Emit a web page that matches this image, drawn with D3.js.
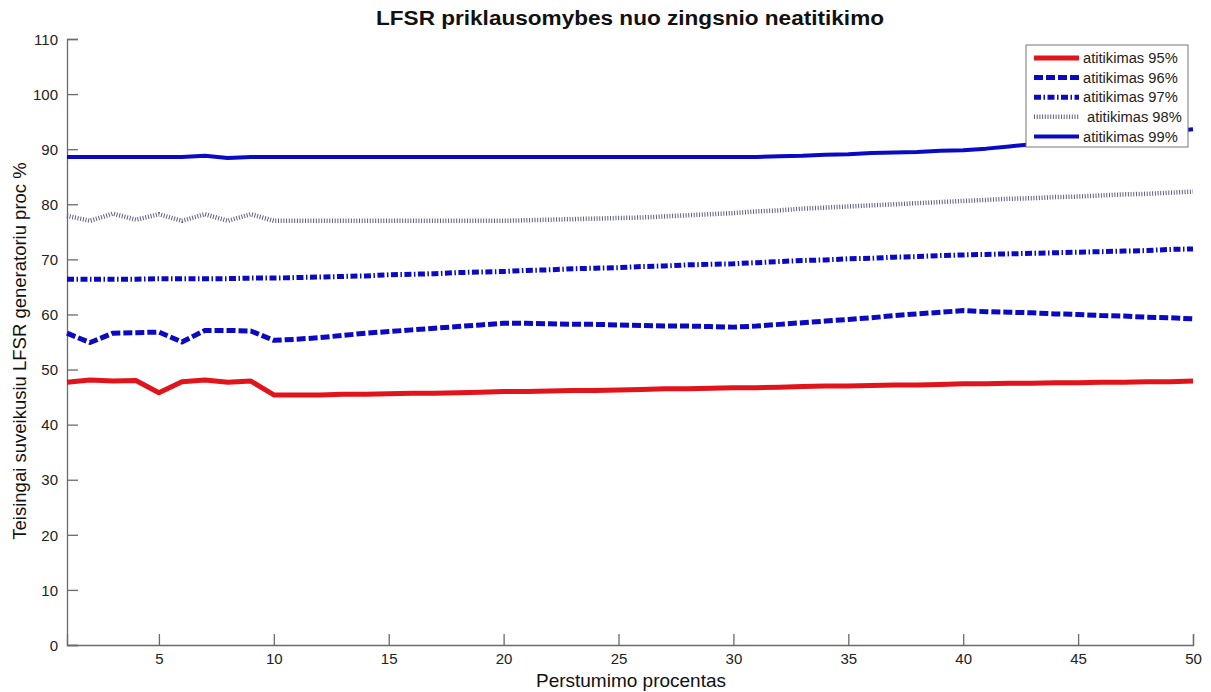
<!DOCTYPE html>
<html>
<head>
<meta charset="utf-8">
<script src="https://cdn.jsdelivr.net/npm/d3@7"></script>
<style>
  html, body { margin: 0; padding: 0; background: #fff; }
  svg { display: block; font-family: "Liberation Sans", Arial, sans-serif; }
</style>
</head>
<body>
<svg id="chart" width="1211" height="692"></svg>
<script>
// Shift percentage (x axis)
const shiftPercent = d3.range(1, 51);

// Share of correctly triggered LFSR generators, one array per match level
const match95 = [47.7, 48.1, 47.9, 48.0, 45.8, 47.8, 48.1, 47.7, 47.9, 45.4,
                 45.4, 45.4, 45.5, 45.5, 45.6, 45.7, 45.7, 45.8, 45.9, 46.0,
                 46.0, 46.1, 46.2, 46.2, 46.3, 46.4, 46.5, 46.5, 46.6, 46.7,
                 46.7, 46.8, 46.9, 47.0, 47.0, 47.1, 47.2, 47.2, 47.3, 47.4,
                 47.4, 47.5, 47.5, 47.6, 47.6, 47.7, 47.7, 47.8, 47.8, 47.9];
const match96 = [56.6, 54.9, 56.6, 56.7, 56.8, 55.0, 57.1, 57.1, 57.0, 55.3,
                 55.5, 55.8, 56.2, 56.6, 56.9, 57.2, 57.5, 57.8, 58.1, 58.4,
                 58.4, 58.3, 58.2, 58.2, 58.1, 58.0, 57.9, 57.9, 57.8, 57.7,
                 57.9, 58.2, 58.5, 58.8, 59.1, 59.4, 59.8, 60.1, 60.4, 60.7,
                 60.5, 60.4, 60.3, 60.1, 60.0, 59.8, 59.7, 59.5, 59.4, 59.2];
const match97 = [66.4, 66.4, 66.4, 66.4, 66.5, 66.5, 66.5, 66.5, 66.6, 66.6,
                 66.7, 66.8, 66.9, 67.0, 67.2, 67.3, 67.4, 67.6, 67.7, 67.8,
                 68.0, 68.1, 68.3, 68.4, 68.5, 68.7, 68.8, 69.0, 69.1, 69.2,
                 69.4, 69.6, 69.8, 69.9, 70.1, 70.2, 70.4, 70.5, 70.7, 70.8,
                 70.9, 71.0, 71.1, 71.2, 71.3, 71.4, 71.5, 71.6, 71.8, 71.9];
const match98 = [77.9, 77.0, 78.3, 77.2, 78.2, 77.0, 78.2, 77.0, 78.2, 77.0,
                 77.0, 77.0, 77.0, 77.0, 77.0, 77.0, 77.0, 77.0, 77.0, 77.0,
                 77.1, 77.2, 77.3, 77.4, 77.5, 77.6, 77.8, 78.0, 78.2, 78.4,
                 78.7, 78.9, 79.2, 79.4, 79.6, 79.8, 80.0, 80.2, 80.4, 80.6,
                 80.8, 81.0, 81.1, 81.3, 81.4, 81.6, 81.8, 81.9, 82.1, 82.3];
const match99 = [88.6, 88.6, 88.6, 88.6, 88.6, 88.6, 88.8, 88.4, 88.6, 88.6,
                 88.6, 88.6, 88.6, 88.6, 88.6, 88.6, 88.6, 88.6, 88.6, 88.6,
                 88.6, 88.6, 88.6, 88.6, 88.6, 88.6, 88.6, 88.6, 88.6, 88.6,
                 88.6, 88.7, 88.8, 89.0, 89.1, 89.3, 89.4, 89.5, 89.7, 89.8,
                 90.1, 90.5, 90.9, 91.2, 91.6, 92.0, 92.4, 92.8, 93.2, 93.6];

const seriesNames = ["atitikimas 95%", "atitikimas 96%", "atitikimas 97%", " atitikimas 98%", "atitikimas 99%"];
const xTicks = [5, 10, 15, 20, 25, 30, 35, 40, 45, 50];
const yTicks = [0, 10, 20, 30, 40, 50, 60, 70, 80, 90, 100, 110];

const titleText = "LFSR priklausomybes nuo zingsnio neatitikimo";
const xLabel = "Perstumimo procentas";
const yLabel = "Teisingai suveikusiu LFSR generatoriu proc %";

// Line styles per series
const styles = [
  { color: "#e0141a", width: 5,   dash: null },
  { color: "#0a0ac4", width: 5,   dash: "9,3" },
  { color: "#0a0ac4", width: 5,   dash: "7,2.5,1.5,2.5" },
  { color: "#5c5c84", width: 4.5, dash: "1,1.7" },
  { color: "#0a0ac4", width: 4,   dash: null }
];

const seriesValues = [match95, match96, match97, match98, match99];

const svg = d3.select("#chart");
const axisColor = "#6a6a6a";

const x = d3.scaleLinear().domain([1, 50]).range([67, 1193]);
const y = d3.scaleLinear().domain([0, 110]).range([645, 39]);

// Axes: left and bottom only, ticks pointing inside the plot
const xAxis = svg.append("g")
  .attr("transform", `translate(0,${y(0)})`)
  .call(d3.axisBottom(x).tickValues(xTicks).tickSize(-11).tickPadding(8).tickFormat(d3.format("d")));
const yAxis = svg.append("g")
  .attr("transform", `translate(${x(1)},0)`)
  .call(d3.axisLeft(y).tickValues(yTicks).tickSize(-11).tickPadding(20).tickFormat(d3.format("d")));

[xAxis, yAxis].forEach(g => {
  g.select(".domain").attr("stroke", axisColor).attr("stroke-width", 1.3);
  g.selectAll(".tick line").attr("stroke", axisColor).attr("stroke-width", 1.3);
  g.selectAll(".tick text")
    .attr("fill", "#222")
    .style("font-size", "15px")
    .style("font-family", "Liberation Sans, Arial, sans-serif");
});
yAxis.selectAll(".tick text").attr("x", -9).attr("dy", "0.35em");
xAxis.selectAll(".tick text").attr("y", 8).attr("dy", "0.71em");

// Series lines
const line = d3.line()
  .x((d, i) => x(shiftPercent[i]))
  .y(d => y(d));

svg.append("g")
  .selectAll("path")
  .data(seriesValues)
  .join("path")
  .attr("d", d => line(d))
  .attr("fill", "none")
  .attr("stroke", (d, i) => styles[i].color)
  .attr("stroke-width", (d, i) => styles[i].width)
  .attr("stroke-dasharray", (d, i) => styles[i].dash)
  .attr("stroke-linejoin", "round");

// Legend
const legend = svg.append("g").attr("transform", "translate(1026,45)");
legend.append("rect")
  .attr("width", 162).attr("height", 102)
  .attr("fill", "#fff").attr("stroke", "#777").attr("stroke-width", 1);
const rowH = 19.6;
const rows = legend.selectAll("g.row")
  .data(seriesNames)
  .join("g")
  .attr("class", "row")
  .attr("transform", (d, i) => `translate(0,${13 + i * rowH})`);
rows.append("line")
  .attr("x1", 8).attr("x2", 53).attr("y1", 0).attr("y2", 0)
  .attr("stroke", (d, i) => styles[i].color)
  .attr("stroke-width", (d, i) => styles[i].width)
  .attr("stroke-dasharray", (d, i) => styles[i].dash);
rows.append("text")
  .attr("x", 57).attr("y", 0).attr("dy", "0.35em")
  .attr("fill", "#222")
  .style("font-size", "14.7px")
  .style("white-space", "pre")
  .attr("xml:space", "preserve")
  .text(d => d);

// Title and axis labels
svg.append("text")
  .attr("x", 630).attr("y", 25)
  .attr("text-anchor", "middle")
  .attr("fill", "#111")
  .attr("textLength", 508)
  .attr("lengthAdjust", "spacingAndGlyphs")
  .style("font-size", "20px").style("font-weight", "bold")
  .text(titleText);

svg.append("text")
  .attr("x", 631).attr("y", 687)
  .attr("text-anchor", "middle")
  .attr("fill", "#111")
  .style("font-size", "19px")
  .text(xLabel);

svg.append("text")
  .attr("transform", "translate(26,351) rotate(-90)")
  .attr("text-anchor", "middle")
  .attr("fill", "#111")
  .style("font-size", "18.5px")
  .text(yLabel);
</script>
</body>
</html>
